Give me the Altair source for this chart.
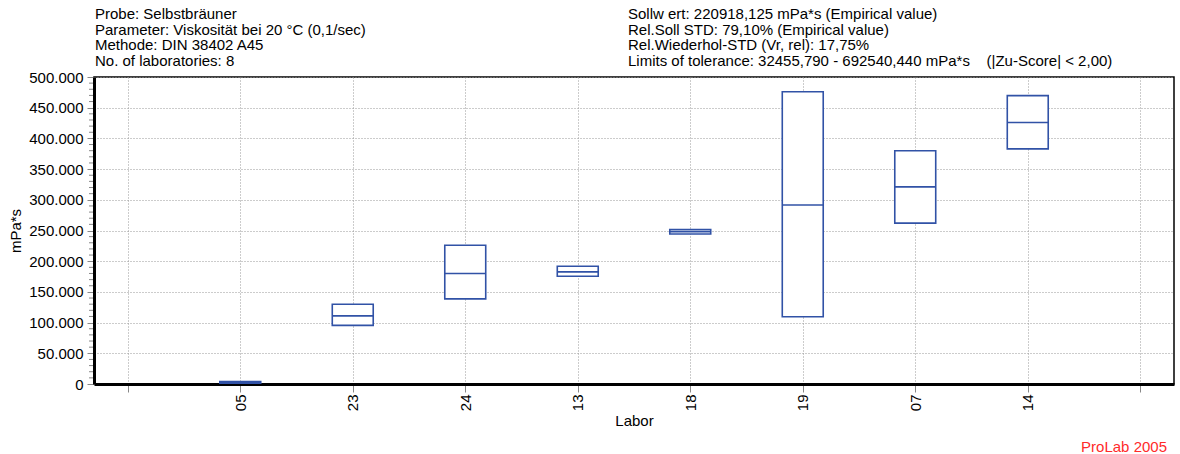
import altair as alt
import pandas as pd

# ---- data ----
labs = ["05", "23", "24", "13", "18", "19", "07", "14"]
slots = [2, 3, 4, 5, 6, 7, 8, 9]
q1 = [1500, 95400, 138700, 175500, 244400, 109500, 262000, 383000]
med = [2500, 111000, 179900, 182600, 248000, 291500, 321000, 426000]
q3 = [4000, 130000, 225900, 191700, 251400, 476000, 380000, 469600]
tick_labels = ["", "05", "23", "24", "13", "18", "19", "07", "14", ""]
y_major = list(range(0, 500001, 50000))
y_minor = [v for v in range(0, 500001, 10000) if v % 50000 != 0]

left_lines = [
    "Probe: Selbstbräuner",
    "Parameter: Viskosität bei 20 °C (0,1/sec)",
    "Methode: DIN 38402 A45",
    "No. of laboratories: 8",
]
right_lines = [
    "Sollw ert: 220918,125 mPa*s (Empirical value)",
    "Rel.Soll STD: 79,10% (Empirical value)",
    "Rel.Wiederhol-STD (Vr, rel): 17,75%",
    "Limits of tolerance: 32455,790 - 692540,440 mPa*s\u00a0\u00a0\u00a0 (|Zu-Score| < 2,00)",
]

FONT = "Liberation Sans"
BLUE = "#3152a6"
HALF = 0.182

df = pd.DataFrame({"lab": labs, "pos": slots, "q1": q1, "med": med, "q3": q3})
minor_df = pd.DataFrame({"v": y_minor})
one = pd.DataFrame({"a": [0]})

label_js = "[" + ",".join("'" + s + "'" for s in tick_labels) + "][datum.value - 1]"

xscale = alt.Scale(domain=[0.7, 10.3], nice=False, zero=False)
yscale = alt.Scale(domain=[0, 500000], nice=False)

xaxis = alt.Axis(
    values=list(range(1, 11)),
    labelExpr=label_js,
    labelAngle=270,
    labelOverlap=False,
    title="Labor",
    grid=True,
    tickSize=8,
    labelPadding=2,
    titlePadding=3,
)
yaxis = alt.Axis(
    values=y_major,
    labelExpr="replace(format(datum.value, ',d'), ',', '.')",
    labelOverlap=False,
    title="mPa*s",
    grid=True,
    tickSize=7,
    labelPadding=4,
    titlePadding=5,
)

base = alt.Chart(df).transform_calculate(
    xl=f"datum.pos - {HALF}", xr=f"datum.pos + {HALF}"
)

boxes = base.mark_rect(fill="white", stroke=BLUE, strokeWidth=1.6).encode(
    x=alt.X("xl:Q", scale=xscale, axis=xaxis),
    x2="xr:Q",
    y=alt.Y("q1:Q", scale=yscale, axis=yaxis),
    y2="q3:Q",
)

medians = base.mark_rule(color=BLUE, strokeWidth=1.6).encode(
    x=alt.X("xl:Q", scale=xscale, axis=xaxis),
    x2="xr:Q",
    y=alt.Y("med:Q", scale=yscale, axis=yaxis),
)

minor = alt.Chart(minor_df).mark_rule(color="#888888", strokeWidth=1).encode(
    y=alt.Y("v:Q", scale=yscale, axis=yaxis),
    x=alt.value(-5),
    x2=alt.value(-1),
)

left_text = alt.Chart(one).mark_text(
    align="left", baseline="top", font=FONT, fontSize=15, lineHeight=15.5, color="black"
).encode(x=alt.value(1), y=alt.value(-70), text=alt.value(left_lines))

right_text = alt.Chart(one).mark_text(
    align="left", baseline="top", font=FONT, fontSize=15, lineHeight=15.5, color="black"
).encode(x=alt.value(534), y=alt.value(-70), text=alt.value(right_lines))

brand = alt.Chart(one).mark_text(
    align="right", baseline="middle", font=FONT, fontSize=15, color="#ff2a2a"
).encode(x=alt.value(1073), y=alt.value(370), text=alt.value("ProLab 2005"))

chart = (
    alt.layer(boxes, medians, minor, left_text, right_text, brand)
    .properties(
        width=1080,
        height=307,
        autosize=alt.AutoSizeParams(type="none"),
        padding={"left": 94, "top": 77, "right": 6, "bottom": 70},
        background="white",
    )
    .configure_view(stroke="black", strokeWidth=1.5)
    .configure_axis(
        domainColor="black",
        domainWidth=3,
        tickColor="#888888",
        tickWidth=1,
        gridColor="#999999",
        gridDash=[1, 2],
        gridWidth=1,
        labelFont=FONT,
        labelFontSize=15,
        labelColor="black",
        titleFont=FONT,
        titleFontSize=15,
        titleFontWeight="normal",
        titleColor="black",
    )
)

chart.save("out.html", embed_options={"renderer": "svg", "actions": False})
